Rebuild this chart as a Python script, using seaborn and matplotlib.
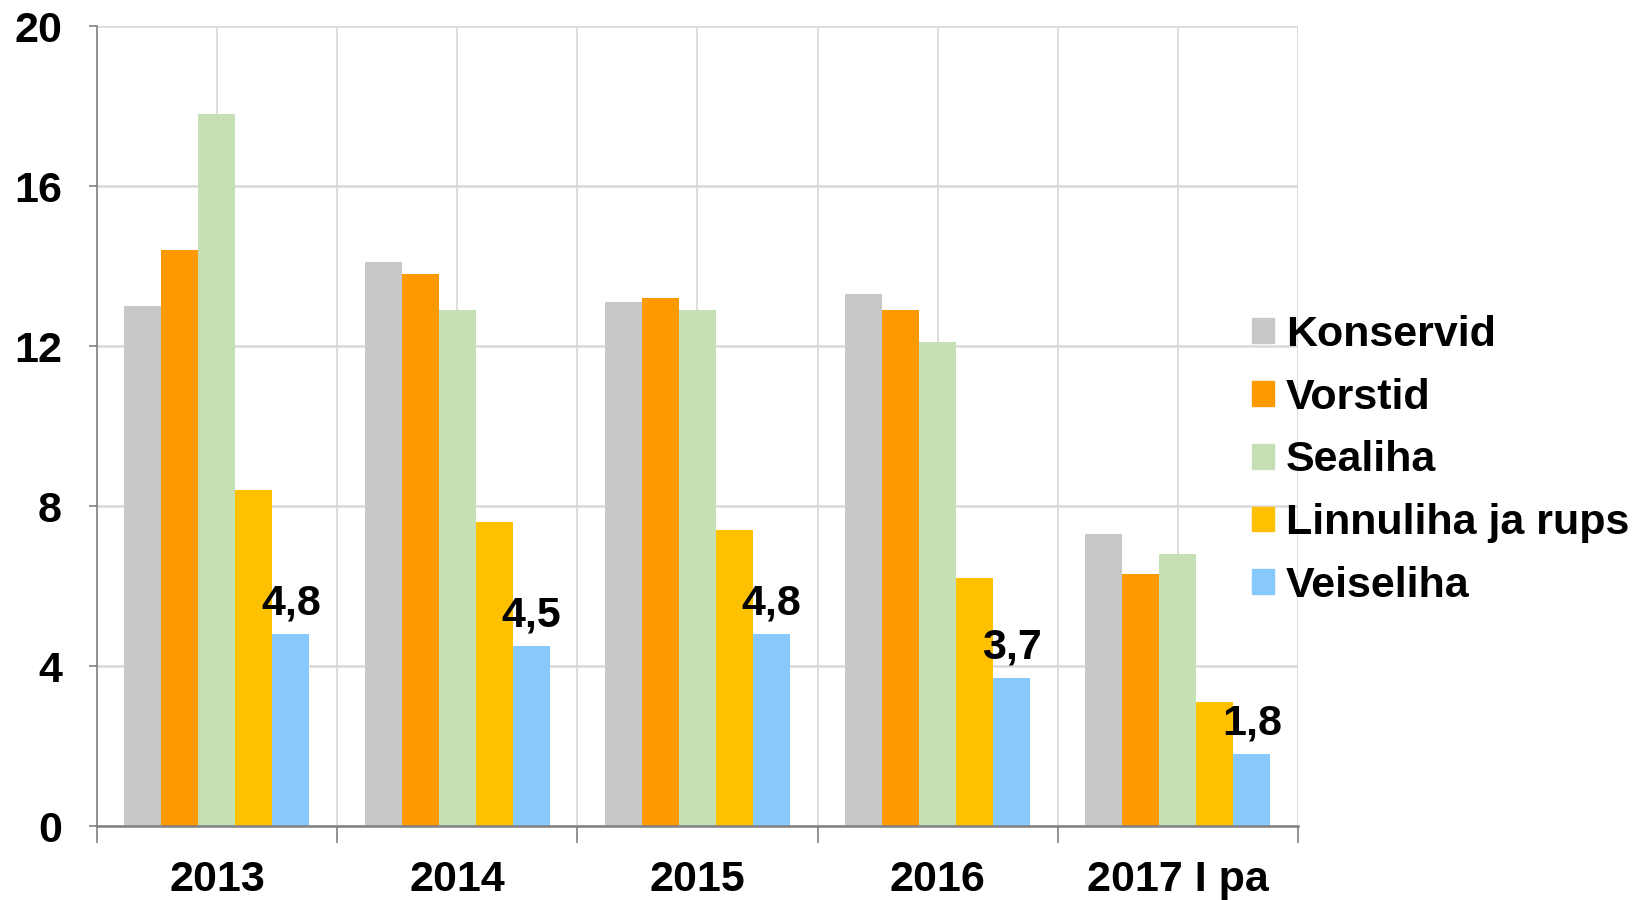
import pandas as pd
import seaborn as sns
import matplotlib.pyplot as plt
from matplotlib.ticker import FixedLocator, NullFormatter, FixedFormatter

years = ['2013', '2014', '2015', '2016', '2017 I pa']
series = ['Konservid', 'Vorstid', 'Sealiha', 'Linnuliha ja rups', 'Veiseliha']
konservid = [13.0, 14.1, 13.1, 13.3, 7.3]
vorstid = [14.4, 13.8, 13.2, 12.9, 6.3]
sealiha = [17.8, 12.9, 12.9, 12.1, 6.8]
linnuliha = [8.4, 7.6, 7.4, 6.2, 3.1]
veiseliha = [4.8, 4.5, 4.8, 3.7, 1.8]
colors = ['#C8C8C8', '#FF9900', '#C5E0B4', '#FFC000', '#87C9FD']

rows = []
for name, vals in zip(series, [konservid, vorstid, sealiha, linnuliha, veiseliha]):
    for y, v in zip(years, vals):
        rows.append({'year': y, 'series': name, 'value': v})
df = pd.DataFrame(rows)

sns.set_style('white')
plt.rcParams['font.family'] = ['Liberation Sans', 'DejaVu Sans']
plt.rcParams['font.weight'] = 'bold'
plt.rcParams['text.color'] = 'black'

fs = 31

fig = plt.figure(figsize=(16.4, 9), dpi=100)
ax = fig.add_axes([0.059, 0.082, 0.7325, 0.889])

sns.barplot(data=df, x='year', y='value', hue='series', order=years, hue_order=series,
            palette=colors, width=0.77, gap=0, saturation=1, ax=ax, legend=False,
            edgecolor='none', linewidth=0)

ax.set_xlim(-0.5, 4.5)
ax.set_ylim(0, 20)
ax.set_yticks([0, 4, 8, 12, 16, 20])
ax.set_xlabel(None)
ax.set_ylabel(None)

# group boundaries as major ticks, labels sit on minor ticks at group centres
ax.xaxis.set_major_locator(FixedLocator([-0.5, 0.5, 1.5, 2.5, 3.5, 4.5]))
ax.xaxis.set_major_formatter(NullFormatter())
ax.xaxis.set_minor_locator(FixedLocator([0, 1, 2, 3, 4]))
ax.xaxis.set_minor_formatter(FixedFormatter(years))
ax.tick_params(axis='x', which='major', length=12, width=1.2, color='#808080', direction='out', bottom=True)
ax.tick_params(axis='x', which='minor', length=0, pad=24, labelsize=fs, labelcolor='black')
ax.tick_params(axis='y', length=6, width=1.2, color='#808080', direction='out', left=True,
               labelsize=fs, pad=19, labelcolor='black')

ax.grid(True, axis='x', which='both', color='#D9D9D9', linewidth=1.3)
ax.grid(True, axis='y', which='major', color='#D9D9D9', linewidth=1.8)
ax.set_axisbelow(True)

for side in ['top', 'right']:
    ax.spines[side].set_visible(False)
ax.spines['left'].set_color('#808080')
ax.spines['bottom'].set_color('#808080')
ax.spines['left'].set_linewidth(1.2)
ax.spines['bottom'].set_linewidth(1.8)

ax.bar_label(ax.containers[4], labels=[f'{v:.1f}'.replace('.', ',') for v in veiseliha],
             padding=8, fontsize=fs, fontweight='bold', color='black')

handles = [plt.Rectangle((0, 0), 1, 1, color=c) for c in colors]
fig.legend(handles, series, loc='center left', bbox_to_anchor=(0.753, 0.4884),
           frameon=False, fontsize=fs, handlelength=0.51, handleheight=0.51,
           handletextpad=0.28, labelspacing=0.53, borderaxespad=0, labelcolor='black')

fig.savefig('out.png', dpi=100)
